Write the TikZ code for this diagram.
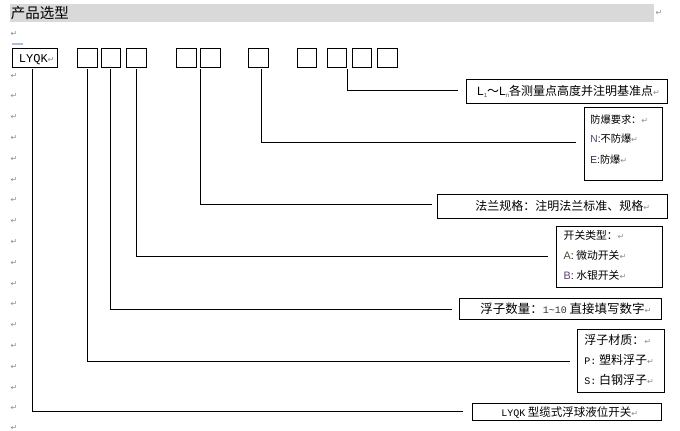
\documentclass[tikz,border=0pt]{standalone}
\usepackage{fontspec}
\setmainfont{Liberation Sans}
\newfontfamily\cjk{Noto Sans CJK SC}
\newfontfamily\mono{Liberation Mono}
\newfontfamily\lsans{Liberation Sans}
\newfontfamily\dejavu{DejaVu Sans}
\definecolor{retgray}{HTML}{8C8C8C}
\definecolor{hdrgray}{HTML}{D9D9D9}
\definecolor{selblue}{HTML}{AEBCD8}
\definecolor{purp}{HTML}{5A3C78}
\definecolor{olivedk}{HTML}{4A4A2A}
\newcommand\retmk{{\dejavu\fontsize{8}{8}\selectfont\color{retgray}↵}}
\newcommand\subsc[1]{{\lsans\fontsize{6}{6}\selectfont\color{purp}\raisebox{-1.6pt}{#1}}}
\begin{document}
\begin{tikzpicture}[x=1pt,y=-1pt,line width=0.8pt,
  box/.style={draw,inner sep=0pt,anchor=north west},
  sq/.style={box,minimum width=19.5pt,minimum height=19.5pt},
  lbl/.style={inner sep=0pt,anchor=base west},
  conn/.style={line width=0.8pt},
  ret/.style={inner sep=0pt,text=retgray,font=\dejavu\fontsize{8}{8}\selectfont}]
\useasboundingbox (0,0) rectangle (680,431);
% header
\fill[hdrgray] (10,4) rectangle (653.5,22);
\node[lbl,font=\cjk\fontsize{14.5}{14.5}\selectfont] (title) at (10.5,18.8) {产品选型};
\node[ret] (rh) at (659,13) {↵};
\fill[selblue] (11.5,42.8) rectangle (22.7,45.3);
% paragraph marks on the left
\node[ret] (r0) at (14,34) {↵};
\foreach \i in {0,...,16} \node[ret] (rl\i) at (14,75.5+20.8*\i) {↵};
\node[ret] (rl17) at (14,427.5) {↵};
% code boxes
\node[box,minimum width=45pt,minimum height=18.5pt] (lyqk) at (12,48) {};
\node[lbl,font=\mono\fontsize{12}{12}\selectfont] (lyqkt) at (18.5,62) {LYQK\retmk};
\node[sq] (b1) at (77.3,47.5) {};
\node[sq] (b2) at (100.7,47.5) {};
\node[sq] (b3) at (126,47.5) {};
\node[sq] (b4) at (176,47.5) {};
\node[sq] (b5) at (200,47.5) {};
\node[sq] (b6) at (248.3,47.5) {};
\node[sq] (b7) at (296.7,47.5) {};
\node[sq] (b8) at (326.7,47.5) {};
\node[sq] (b9) at (351.7,47.5) {};
\node[sq] (b10) at (377.3,47.5) {};
% right boxes
\node[box,minimum width=201.6pt,minimum height=24pt] (Lb) at (465.7,79.3) {};
\node[box,minimum width=78.3pt,minimum height=73.3pt] (exb) at (584,106.7) {};
\node[box,minimum width=230pt,minimum height=23.4pt] (flb) at (437.3,194.3) {};
\node[box,minimum width=106.3pt,minimum height=61pt] (swb) at (556,225.7) {};
\node[box,minimum width=202pt,minimum height=20.7pt] (ctb) at (459,298.3) {};
\node[box,minimum width=87.6pt,minimum height=62.4pt] (mtb) at (576.7,329.3) {};
\node[box,minimum width=188.7pt,minimum height=17.3pt] (lyb) at (472.3,402.7) {};
% texts
\node[lbl,font=\cjk\fontsize{12}{12}\selectfont] (Lt) at (476.7,95.5)
  {{\lsans L}\subsc{1}～{\lsans L}\subsc{n}各测量点高度并注明基准点\retmk};
\begin{scope}[font=\cjk\fontsize{10.2}{10.2}\selectfont]
\node[lbl] (ex1) at (590,123.8) {防爆要求：\retmk};
\node[lbl] (ex2) at (590,142.6) {{\lsans\color{purp}N}{\lsans:}不防爆\retmk};
\node[lbl] (ex3) at (590,163.8) {{\lsans\color{purp!60!black}E}{\lsans:}防爆\retmk};
\end{scope}
\node[lbl,font=\cjk\fontsize{12}{12}\selectfont] (flt) at (475,210.2) {法兰规格：注明法兰标准、规格\retmk};
\begin{scope}[font=\cjk\fontsize{10.8}{10.8}\selectfont]
\node[lbl] (sw1) at (563.3,239.8) {开关类型：\retmk};
\node[lbl] (sw2) at (563.3,259.8) {{\lsans\color{olivedk}A}{\lsans:} 微动开关\retmk};
\node[lbl] (sw3) at (563.3,279.1) {{\lsans\color{purp}B}{\lsans:} 水银开关\retmk};
\end{scope}
\node[lbl,font=\cjk\fontsize{12.5}{12.5}\selectfont] (ctt) at (480,313.2)
  {浮子数量：{\mono\fontsize{10}{10}\selectfont\color{black!80}1\textasciitilde10} 直接填写数字\retmk};
\begin{scope}[font=\cjk\fontsize{12}{12}\selectfont]
\node[lbl] (mt1) at (584,344.5) {浮子材质：\retmk};
\node[lbl] (mt2) at (584,364.5) {{\mono\fontsize{10}{10}\selectfont P:} 塑料浮子\retmk};
\node[lbl] (mt3) at (584,384.5) {{\mono\fontsize{10}{10}\selectfont S:} 白钢浮子\retmk};
\end{scope}
\node[lbl,font=\cjk\fontsize{11.5}{11.5}\selectfont] (lyt) at (501,416)
  {{\mono\fontsize{10}{10}\selectfont LYQK} 型缆式浮球液位开关\retmk};
% connectors
\draw[conn] ([shift={(-2.2pt,-1.5pt)}]lyqk.south) |- ([xshift=-9pt]lyb.west);
\draw[conn] ([yshift=-1.5pt]b1.south) |- ([xshift=-6.7pt]mtb.west);
\draw[conn] ([yshift=-1.5pt]b2.south) |- ([xshift=-7.3pt]ctb.west);
\draw[conn] ([yshift=-1.5pt]b3.south) |- ([xshift=-7.7pt]swb.west);
\draw[conn] ([yshift=-1.5pt]b5.south west) |- ([shift={(-5pt,2pt)}]flb.west);
\draw[conn] ([shift={(3pt,-1.5pt)}]b6.south) |- ([shift={(-8.3pt,1.5pt)}]exb.west);
\draw[conn] ([yshift=-1.5pt]b8.south east) |- ([shift={(-7.4pt,1.3pt)}]Lb.west);
\end{tikzpicture}
\end{document}
